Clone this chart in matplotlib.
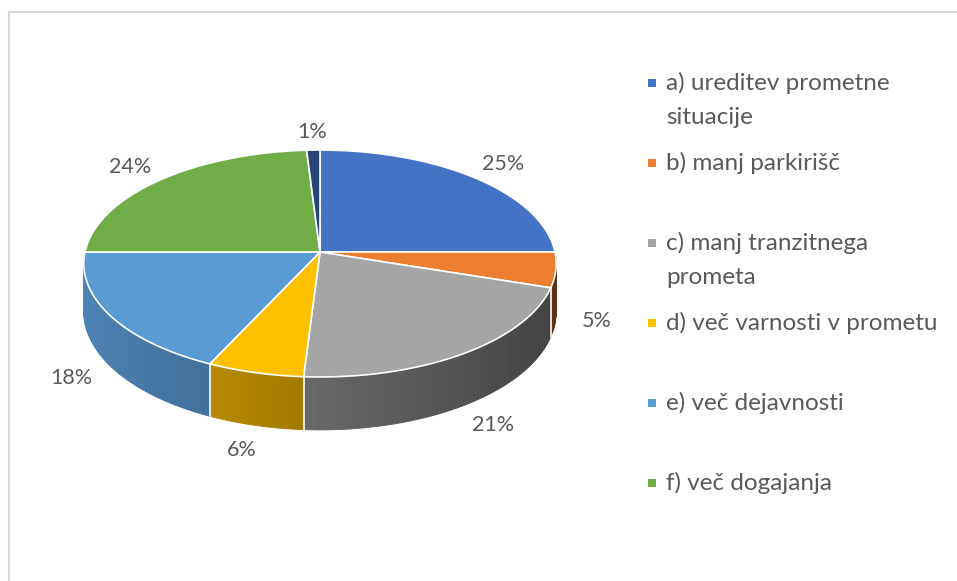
import numpy as np
import matplotlib
matplotlib.use("Agg")
import matplotlib.pyplot as plt
from matplotlib.patches import Polygon
from matplotlib.colors import to_rgb

# Podatki
kategorije = ["a) ureditev prometne\nsituacije", "b) manj parkirišč",
              "c) manj tranzitnega\nprometa", "d) več varnosti v prometu",
              "e) več dejavnosti", "f) več dogajanja", ""]
vrednosti = [25, 5, 21, 6, 18, 24, 1]
oznake = ["25%", "5%", "21%", "6%", "18%", "24%", "1%"]
barve = ["#4472C4", "#ED7D31", "#A5A5A5", "#FFC000", "#5B9BD5", "#70AD47", "#264478"]

plt.rcParams["font.family"] = ["Lato", "DejaVu Sans"]
txt_barva = "#595959"

fig = plt.figure(figsize=(9.57, 5.81), dpi=100)
ax = fig.add_axes([0, 0, 1, 1])
ax.set_xlim(0, 957)
ax.set_ylim(581, 0)
ax.axis("off")

# okvir (le zgoraj in levo viden)
ax.plot([9, 957], [12, 12], color="#d9d9d9", lw=1.5)
ax.plot([9, 9], [12, 581], color="#d9d9d9", lw=1.5)

# geometrija 3D torte
cx, cy = 320, 252
rx, ry = 235, 112.3
p = 0.1013
globina = 47.6


def proj(kot, r=1.0, spodaj=False):
    X = r * np.cos(np.radians(kot))
    Y = r * np.sin(np.radians(kot))
    den = 1 + p * Y
    sx = cx + rx * X / den
    sy = cy + (-ry * Y + (globina if spodaj else 0)) / den
    return sx, sy


# koti rezin (v smeri urinega kazalca od vrha)
delezi = np.array(vrednosti) / sum(vrednosti) * 360
konci = 90 - np.cumsum(delezi)
zacetki = konci + delezi

# stranske stene (vidni sprednji del)
meje = []
for i in range(len(vrednosti)):
    lo = max(konci[i], -180)
    hi = min(zacetki[i], 0)
    if hi <= lo:
        continue
    meje.append(lo)
    n = max(2, int((hi - lo) / 1.0))
    koti = np.linspace(lo, hi, n + 1)
    base = np.array(to_rgb(barve[i]))
    for k0, k1 in zip(koti[:-1], koti[1:]):
        km = (k0 + k1) / 2
        f = 0.62 - 0.23 * np.cos(np.radians(km))
        c = np.clip(base * f, 0, 1)
        pts = [proj(k0), proj(k1), proj(k1, spodaj=True), proj(k0, spodaj=True)]
        ax.add_patch(Polygon(pts, closed=True, facecolor=c, edgecolor=c, lw=0.6))

for k in meje:
    if k > -180:
        ax.plot(*zip(proj(k), proj(k, spodaj=True)), color="white", lw=1.2)

# zgornje ploskve
for i in range(len(vrednosti)):
    koti = np.linspace(zacetki[i], konci[i], max(3, int(delezi[i] * 2)))
    pts = [(cx, cy)] + [proj(k) for k in koti]
    ax.add_patch(Polygon(pts, closed=True, facecolor=barve[i], edgecolor="white", lw=1.2))

# oznake odstotkov
for i in range(len(vrednosti)):
    km = (zacetki[i] + konci[i]) / 2
    s = np.sin(np.radians(km))
    r = 1.2 if s >= 0 else 1.17
    sx, sy = proj(km, r=r)
    if s < 0:
        sy += globina / (1 + p * r * s)
        sx += 8 * np.cos(np.radians(km)) * (1 - abs(np.cos(np.radians(km))))
    ax.text(sx, sy, oznake[i], ha="center", va="center", fontsize=15.5, color=txt_barva)

# legenda
for i, lab in enumerate(kategorije):
    if not lab:
        continue
    y = 83 + 80 * i
    ax.scatter([652], [y], marker="s", s=40, color=barve[i], linewidths=0)
    for j, vrstica in enumerate(lab.split("\n")):
        ax.text(666, y + 35 * j, vrstica, ha="left", va="center", fontsize=17.5,
                color=txt_barva)

fig.savefig("out.png", dpi=100)
